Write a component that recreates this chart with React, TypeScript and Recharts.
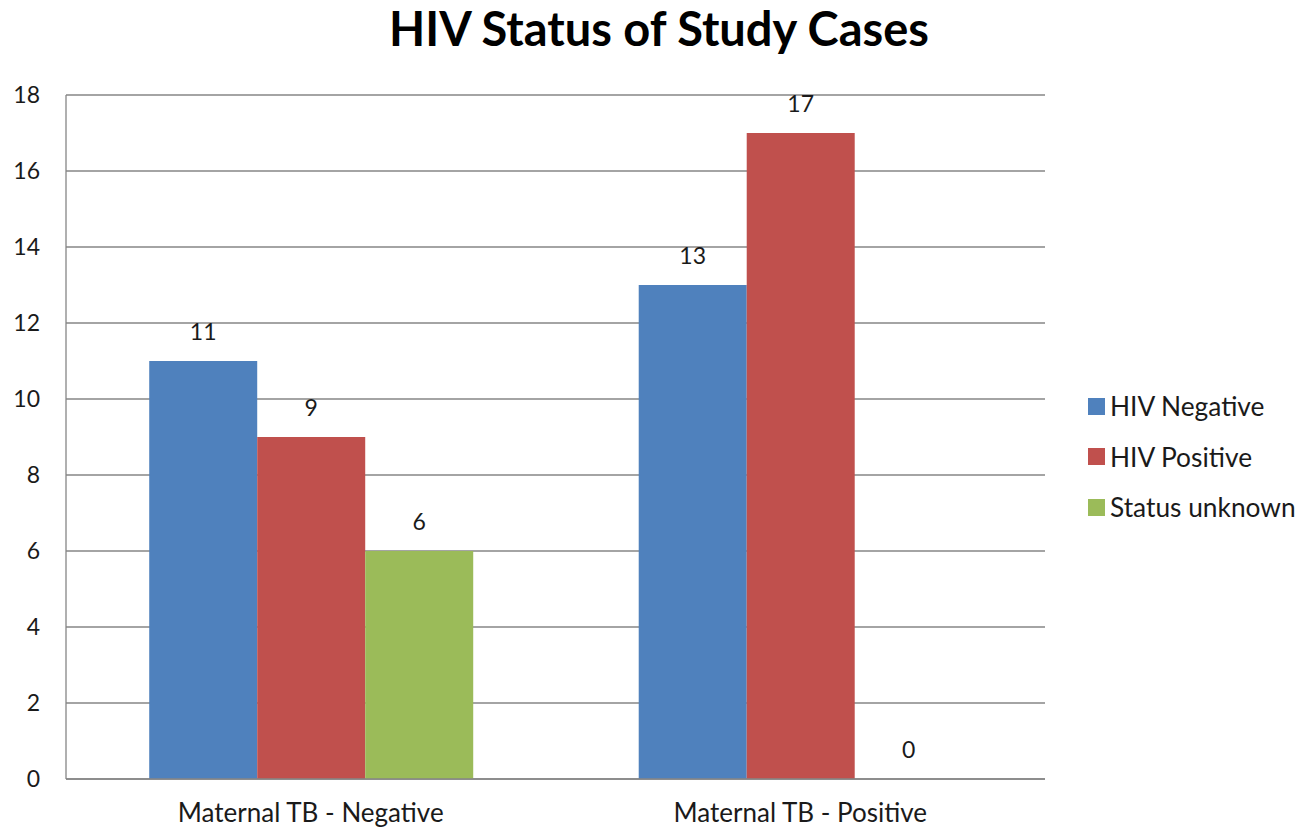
import React from "react";
import { BarChart, Bar, XAxis, YAxis, CartesianGrid, LabelList } from "recharts";

const categories = ["Maternal TB - Negative", "Maternal TB - Positive"];
const hivNegative = [11, 13];
const hivPositive = [9, 17];
const statusUnknown = [6, 0];
const yTicks = [0, 2, 4, 6, 8, 10, 12, 14, 16, 18];

const seriesInfo = [
  { key: "neg", name: "HIV Negative", color: "#4F81BD" },
  { key: "pos", name: "HIV Positive", color: "#C0504D" },
  { key: "unk", name: "Status unknown", color: "#9BBB59" },
];

const data = categories.map((c, i) => ({
  name: c,
  neg: hivNegative[i],
  pos: hivPositive[i],
  unk: statusUnknown[i],
}));

const FONT = "Lato, 'Open Sans', sans-serif";

export default function App() {
  return (
    <div style={{ position: "absolute", left: 0, top: 0, width: 1308, height: 829, background: "#fff" }}>
      <div
        style={{
          position: "absolute",
          left: 0,
          width: 1318,
          top: 5,
          textAlign: "center",
          fontFamily: FONT,
          fontWeight: 700,
          fontSize: 47,
          lineHeight: "47px",
          color: "#000",
        }}
      >
        HIV Status of Study Cases
      </div>
      <div
        style={{
          position: "absolute",
          left: 1088,
          top: 381,
          fontFamily: FONT,
          fontSize: 26.3,
          color: "#1a1a1a",
        }}
      >
        {seriesInfo.map((s) => (
          <div key={s.key} style={{ display: "flex", alignItems: "center", height: 50.5, whiteSpace: "nowrap" }}>
            <span style={{ width: 17, height: 17, background: s.color, display: "inline-block", marginRight: 5 }} />
            <span>{s.name}</span>
          </div>
        ))}
      </div>
      <BarChart
        width={1308}
        height={829}
        data={data}
        margin={{ top: 95, right: 263, bottom: 0, left: 0 }}
        barCategoryGap="17%"
        barGap={0}
      >
        <CartesianGrid vertical={false} stroke="#868686" strokeWidth={1.3} />
        <XAxis
          dataKey="name"
          height={50}
          tickLine={false}
          axisLine={{ stroke: "#868686", strokeWidth: 1.3 }}
          tickMargin={19}
          tick={{ fontFamily: FONT, fontSize: 26, fill: "#1a1a1a" }}
        />
        <YAxis
          width={66}
          domain={[0, 18]}
          ticks={yTicks}
          interval={0}
          tickLine={false}
          axisLine={{ stroke: "#868686", strokeWidth: 1.3 }}
          tickMargin={20}
          tick={{ fontFamily: FONT, fontSize: 23, fill: "#1a1a1a" }}
        />
        {seriesInfo.map((s) => (
          <Bar
            key={s.key}
            dataKey={s.key}
            name={s.name}
            fill={s.color}
            minPointSize={0.01}
            isAnimationActive={false}
          >
            <LabelList
              dataKey={s.key}
              position="top"
              offset={21}
              formatter={(v: any) => String(v)}
              style={{ fontFamily: FONT, fontSize: 23, fill: "#1a1a1a" }}
            />
          </Bar>
        ))}
      </BarChart>
    </div>
  );
}
